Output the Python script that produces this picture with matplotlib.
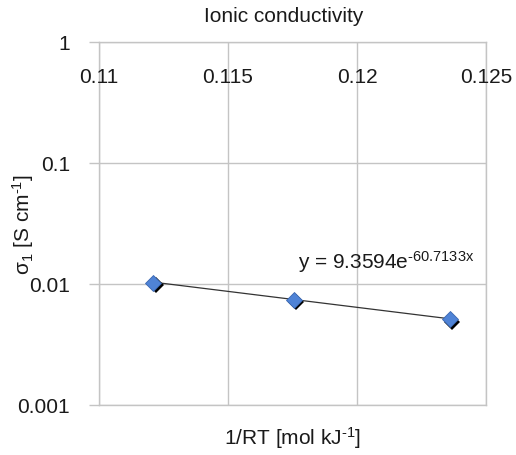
import numpy as np
import matplotlib
matplotlib.use("Agg")
import matplotlib.pyplot as plt
import matplotlib.transforms as mtransforms

# =========================
# DATA
# =========================
inv_rt = [0.1121, 0.11755, 0.1236]
sigma = [0.0102, 0.0074, 0.0051]

# exponential trendline y = a * exp(b * x)
trend_a = 9.3594
trend_b = -60.7133

x_ticks = [0.11, 0.115, 0.12, 0.125]
x_tick_labels = ["0.11", "0.115", "0.12", "0.125"]
y_ticks = [0.001, 0.01, 0.1, 1]
y_tick_labels = ["0.001", "0.01", "0.1", "1"]

# =========================
# STYLE
# =========================
plt.rcParams["font.family"] = ["Liberation Sans", "DejaVu Sans"]
plt.rcParams["mathtext.fontset"] = "custom"
plt.rcParams["mathtext.rm"] = "Liberation Sans"
plt.rcParams["mathtext.it"] = "Liberation Sans"
plt.rcParams["mathtext.default"] = "regular"

grey = "#c4c4c4"
text_col = "#1a1a1a"
hy = "\u2010"  # plain hyphen instead of the math minus

fig = plt.figure(figsize=(5.16, 4.56), dpi=100)
ax = fig.add_axes([99 / 516, 1 - 406 / 456, 387 / 516, 363 / 456])

ax.set_yscale("log")
ax.set_xlim(0.11, 0.125)
ax.set_ylim(0.001, 1)

for s in ax.spines.values():
    s.set_color(grey)
    s.set_linewidth(1)

ax.set_xticks(x_ticks)
ax.set_xticklabels([])
ax.tick_params(axis="x", length=0)
ax.set_yticks(y_ticks)
ax.set_yticklabels(y_tick_labels)
ax.yaxis.set_minor_locator(matplotlib.ticker.NullLocator())
ax.tick_params(axis="y", length=7, width=1, color=grey, pad=14,
               labelsize=15, labelcolor=text_col)
ax.grid(True, color=grey, linewidth=1)

# x tick labels sit inside, just under the top line
blend = mtransforms.blended_transform_factory(ax.transData, ax.transAxes)
for xv, lab in zip(x_ticks, x_tick_labels):
    ax.text(xv, 0.904, lab, transform=blend, ha="center", va="center",
            fontsize=15, color=text_col)

# =========================
# TRENDLINE + POINTS
# =========================
xfit = np.linspace(min(inv_rt), max(inv_rt), 50)
ax.plot(xfit, trend_a * np.exp(trend_b * xfit), color="#333333",
        linewidth=0.9, zorder=3)

# black drop shadow behind each diamond
shadow = mtransforms.offset_copy(ax.transData, fig=fig, x=2.5, y=-2.5,
                                 units="dots")
ax.plot(inv_rt, sigma, linestyle="none", marker="D", markersize=8.5,
        color="black", markeredgewidth=0, transform=shadow, zorder=4)
ax.plot(inv_rt, sigma, linestyle="none", marker="D", markersize=8.5,
        markerfacecolor="#4f83d6", markeredgecolor="#3a67b0",
        markeredgewidth=0.6, zorder=5)

ax.text(0.1177, 0.0155, "y = 9.3594e$^{" + hy + "60.7133x}$", fontsize=15,
        color=text_col, ha="left", va="center")

# =========================
# LABELS
# =========================
fig.text(284 / 516, 1 - 17 / 456, "Ionic conductivity", ha="center",
         va="center", fontsize=15, color=text_col)
fig.text(293 / 516, 1 - 438 / 456, "1/RT [mol kJ$^{" + hy + "1}$]",
         ha="center", va="center", fontsize=15, color=text_col)
fig.text(23 / 516, 1 - 225 / 456, r"$\sigma_1$ [S cm$^{" + hy + "1}$]",
         ha="center", va="center", rotation=90, fontsize=15, color=text_col)

fig.savefig("out.png", dpi=100)
